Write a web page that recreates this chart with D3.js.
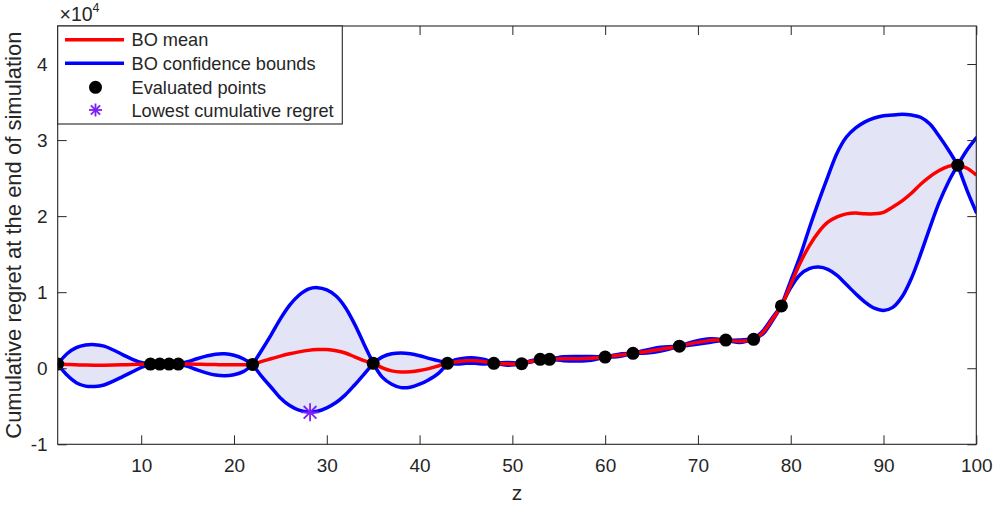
<!DOCTYPE html>
<html>
<head>
<meta charset="utf-8">
<script src="https://cdn.jsdelivr.net/npm/d3@7/dist/d3.min.js"></script>
<style>
  html, body { margin: 0; padding: 0; background: #fff; }
  svg { display: block; }
  text { font-family: "Liberation Sans", Arial, Helvetica, sans-serif; fill: #262626; }
</style>
</head>
<body>
<svg id="chart" width="998" height="505"></svg>
<script>
// ---- data (values in units of 1e4) ----
const curveZ = [1,2,3,4,5,6,7,8,9,10,11,12,13,14,15,16,17,18,19,20,21,22,23,24,25,26,27,28,29,30,31,32,33,34,35,36,37,38,39,40,41,42,43,44,45,46,47,48,49.5,51,52,53,54,55.5,57,58.5,60,61.5,63,64.5,66,68,69.5,71,72,73,74.5,76,77,78,79,80,81,82,83,84,85,86,87,88,89,90,91,92,93,94,95,96,97,98,99,100];
const meanV = [0.055,0.05,0.045,0.042,0.04,0.04,0.042,0.045,0.05,0.053,0.055,0.055,0.055,0.055,0.055,0.053,0.05,0.048,0.046,0.045,0.046,0.05,0.09,0.125,0.16,0.19,0.215,0.235,0.245,0.245,0.23,0.2,0.15,0.1,0.065,0.005,-0.035,-0.05,-0.045,-0.03,-0.005,0.03,0.065,0.085,0.1,0.1,0.085,0.065,0.058,0.06,0.09,0.117,0.117,0.125,0.125,0.13,0.147,0.17,0.196,0.22,0.25,0.29,0.33,0.36,0.37,0.37,0.355,0.38,0.47,0.64,0.82,1.10,1.38,1.61,1.79,1.92,1.99,2.03,2.04,2.03,2.03,2.05,2.12,2.20,2.30,2.42,2.52,2.60,2.655,2.67,2.63,2.54];
const upperV = [0.055,0.19,0.27,0.305,0.31,0.29,0.24,0.18,0.12,0.075,0.055,0.055,0.055,0.055,0.085,0.125,0.16,0.185,0.19,0.17,0.125,0.05,0.24,0.44,0.65,0.83,0.96,1.04,1.06,1.03,0.95,0.8,0.58,0.32,0.065,0.15,0.19,0.2,0.19,0.165,0.13,0.1,0.065,0.115,0.135,0.135,0.115,0.065,0.075,0.06,0.1,0.117,0.117,0.15,0.155,0.155,0.147,0.185,0.196,0.24,0.275,0.29,0.35,0.385,0.385,0.37,0.37,0.38,0.49,0.66,0.82,1.15,1.47,1.84,2.19,2.52,2.83,3.04,3.16,3.24,3.29,3.32,3.33,3.34,3.33,3.30,3.21,3.05,2.87,2.67,2.87,3.03];
const lowerV = [0.055,-0.09,-0.19,-0.235,-0.24,-0.22,-0.17,-0.11,-0.05,0.01,0.055,0.055,0.055,0.055,0.025,-0.02,-0.06,-0.09,-0.1,-0.085,-0.045,0.05,-0.11,-0.25,-0.39,-0.49,-0.55,-0.575,-0.565,-0.52,-0.45,-0.35,-0.22,-0.08,0.065,-0.12,-0.21,-0.255,-0.25,-0.21,-0.15,-0.07,0.065,0.055,0.065,0.065,0.055,0.065,0.041,0.06,0.08,0.117,0.117,0.1,0.095,0.105,0.147,0.155,0.196,0.2,0.225,0.29,0.31,0.335,0.355,0.37,0.34,0.38,0.45,0.62,0.82,1.06,1.23,1.31,1.33,1.30,1.22,1.10,0.98,0.87,0.79,0.76,0.80,0.94,1.18,1.50,1.85,2.18,2.45,2.67,2.34,2.05];
const pointZ = [1,11,12,13,14,22,35,43,48,51,53,54,60,63,68,73,76,79,98];
const pointV = [0.055,0.055,0.055,0.055,0.055,0.05,0.065,0.065,0.065,0.06,0.117,0.117,0.147,0.196,0.29,0.37,0.38,0.82,2.67];
const bestZ = [28.2];
const bestV = [-0.58];
const xTicks = [10,20,30,40,50,60,70,80,90,100];
const yTicks = [-1,0,1,2,3,4];
const legendLabels = ["BO mean","BO confidence bounds","Evaluated points","Lowest cumulative regret"];

// ---- layout ----
const L = 57.7, R = 976.3, T = 26, B = 444.3;
const x = d3.scaleLinear().domain([1,100]).range([L,R]);
const y = d3.scaleLinear().domain([-1,4.5]).range([B,T]);
const axisColor = "#262626";
const red = "#ff0000", blue = "#0000ff", violet = "#7e1ff5", fillCol = "#e4e4f7";
const FONT = '"Liberation Sans", Arial, Helvetica, sans-serif';

const svg = d3.select("#chart");
svg.append("defs").append("clipPath").attr("id","clip")
  .append("rect").attr("x",L).attr("y",T).attr("width",R-L).attr("height",B-T);

const rows = curveZ.map((z,i)=>({z, m:meanV[i], u:upperV[i], l:lowerV[i]}));
// split bounds into segments at evaluated points (bounds have kinks there)
const kinkSet = new Set(pointZ);
const segs = [];
let cur = [];
rows.forEach(r => {
  cur.push(r);
  if (kinkSet.has(r.z) && cur.length > 1) { segs.push(cur); cur = [r]; }
});
if (cur.length > 1) segs.push(cur);

const g = svg.append("g").attr("clip-path","url(#clip)");
const area = d3.area().x(d=>x(d.z)).y0(d=>y(d.l)).y1(d=>y(d.u)).curve(d3.curveCatmullRom.alpha(0.5));
segs.forEach(s => g.append("path").attr("d", area(s)).attr("fill", fillCol).attr("stroke", fillCol).attr("stroke-width",0.5));

const lineU = d3.line().x(d=>x(d.z)).y(d=>y(d.u)).curve(d3.curveCatmullRom.alpha(0.5));
const lineL = d3.line().x(d=>x(d.z)).y(d=>y(d.l)).curve(d3.curveCatmullRom.alpha(0.5));
segs.forEach(s => {
  g.append("path").attr("d", lineU(s)).attr("fill","none").attr("stroke",blue).attr("stroke-width",3.5).attr("stroke-linejoin","round").attr("stroke-linecap","round");
  g.append("path").attr("d", lineL(s)).attr("fill","none").attr("stroke",blue).attr("stroke-width",3.5).attr("stroke-linejoin","round").attr("stroke-linecap","round");
});
const lineM = d3.line().x(d=>x(d.z)).y(d=>y(d.m)).curve(d3.curveCatmullRom.alpha(0.5));
g.append("path").attr("d", lineM(rows)).attr("fill","none").attr("stroke",red).attr("stroke-width",3.5).attr("stroke-linejoin","round");

// evaluated points
g.selectAll("circle.pt").data(pointZ.map((z,i)=>({z,v:pointV[i]}))).join("circle")
  .attr("class","pt").attr("cx",d=>x(d.z)).attr("cy",d=>y(d.v)).attr("r",6.5).attr("fill","#000");

// asterisk marker
function asterisk(sel, cx, cy, r) {
  const gg = sel.append("g").attr("transform",`translate(${cx},${cy})`);
  [0,45,90,135].forEach(a => {
    const rad = a*Math.PI/180;
    gg.append("line").attr("x1",-r*Math.cos(rad)).attr("y1",-r*Math.sin(rad))
      .attr("x2",r*Math.cos(rad)).attr("y2",r*Math.sin(rad))
      .attr("stroke",violet).attr("stroke-width",1.8);
  });
}
bestZ.forEach((z,i)=>asterisk(svg, x(z), y(bestV[i]), 9));

// axes
const fmt = d => String(d);
const ax = svg.append("g");
ax.append("g").attr("transform",`translate(0,${B})`)
  .call(d3.axisBottom(x).tickValues(xTicks).tickSize(-9).tickPadding(14.5).tickFormat(fmt));
ax.append("g").attr("transform",`translate(0,${T})`)
  .call(d3.axisTop(x).tickValues(xTicks).tickSize(-9).tickFormat(""));
ax.append("g").attr("transform",`translate(${L},0)`)
  .call(d3.axisLeft(y).tickValues(yTicks).tickSize(-9).tickPadding(10).tickFormat(fmt));
ax.append("g").attr("transform",`translate(${R},0)`)
  .call(d3.axisRight(y).tickValues(yTicks).tickSize(-9).tickFormat(""));
ax.selectAll(".domain").remove();
ax.selectAll(".tick line").attr("stroke",axisColor).attr("stroke-width",1);
ax.selectAll(".tick text").attr("font-size","19px").attr("fill",axisColor).attr("font-family",FONT);
svg.append("rect").attr("x",L).attr("y",T).attr("width",R-L).attr("height",B-T)
  .attr("fill","none").attr("stroke",axisColor).attr("stroke-width",1.1);

// axis labels
svg.append("text").attr("x",(L+R)/2).attr("y",500).attr("text-anchor","middle").attr("font-size","21px").text("z");
svg.append("text").attr("transform",`translate(20.5,${(T+B)/2}) rotate(-90)`).attr("text-anchor","middle")
  .attr("font-size","22px").text("Cumulative regret at the end of simulation");
const ex = svg.append("text").attr("x",59.5).attr("y",20.7).attr("font-size","19.5px");
ex.append("tspan").text("\u00d710");
ex.append("tspan").attr("font-size","12.5px").attr("dy",-8.5).text("4");

// legend
const lg = svg.append("g");
lg.append("rect").attr("x",L).attr("y",T).attr("width",342.3-L).attr("height",124-T)
  .attr("fill","#fff").attr("stroke",axisColor).attr("stroke-width",1.1);
const rowY = [39.8, 63.3, 87.3, 110];
lg.append("line").attr("x1",65).attr("x2",124).attr("y1",rowY[0]).attr("y2",rowY[0]).attr("stroke",red).attr("stroke-width",3.5);
lg.append("line").attr("x1",65).attr("x2",124).attr("y1",rowY[1]).attr("y2",rowY[1]).attr("stroke",blue).attr("stroke-width",3.5);
lg.append("circle").attr("cx",95.5).attr("cy",rowY[2]).attr("r",6.5).attr("fill","#000");
asterisk(lg, 95.5, rowY[3], 6.5);
legendLabels.forEach((t,i)=>{
  lg.append("text").attr("x",131.5).attr("y",rowY[i]+6.5).attr("font-size","18.2px").text(t);
});
</script>
</body>
</html>
